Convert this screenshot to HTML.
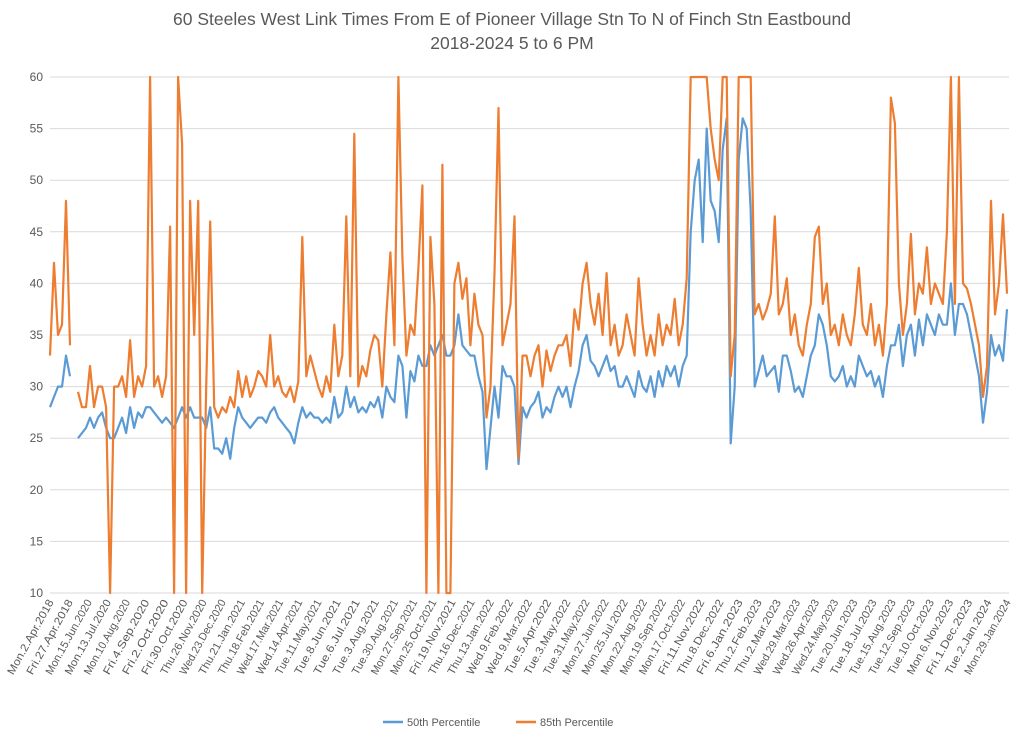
<!DOCTYPE html>
<html><head><meta charset="utf-8"><style>
html,body{margin:0;padding:0;background:#fff;}
svg{display:block;font-family:"Liberation Sans",Calibri,sans-serif;}
</style></head><body>
<svg id="chart" width="1024" height="743" viewBox="0 0 1024 743" xmlns="http://www.w3.org/2000/svg">
<text x="512" y="25" text-anchor="middle" font-size="17.5" fill="#595959">60 Steeles West Link Times From E of Pioneer Village Stn To N of Finch Stn Eastbound</text>
<text x="512" y="49" text-anchor="middle" font-size="17.5" fill="#595959">2018-2024 5 to 6 PM</text>
<g id="grid"></g>
<g id="yticks"></g>
<g id="xticks"></g>
<defs><clipPath id="pc"><rect x="48" y="75" width="962" height="520"/></clipPath></defs>
<g id="series" clip-path="url(#pc)"></g>
<g>
<line x1="383" y1="722" x2="403" y2="722" stroke="#5b9bd5" stroke-width="2.5"/>
<text x="407" y="726" font-size="11" fill="#595959">50th Percentile</text>
<line x1="516" y1="722" x2="536" y2="722" stroke="#ed7d31" stroke-width="2.5"/>
<text x="540" y="726" font-size="11" fill="#595959">85th Percentile</text>
</g>
</svg>
<script>
const yTicks=[10,15,20,25,30,35,40,45,50,55,60];
const xLabels=["Mon.2.Apr.2018","Fri.27.Apr.2018","Mon.15.Jun.2020","Mon.13.Jul.2020","Mon.10.Aug.2020","Fri.4.Sep.2020","Fri.2.Oct.2020","Fri.30.Oct.2020","Thu.26.Nov.2020","Wed.23.Dec.2020","Thu.21.Jan.2021","Thu.18.Feb.2021","Wed.17.Mar.2021","Wed.14.Apr.2021","Tue.11.May.2021","Tue.8.Jun.2021","Tue.6.Jul.2021","Tue.3.Aug.2021","Tue.30.Aug.2021","Mon.27.Sep.2021","Mon.25.Oct.2021","Fri.19.Nov.2021","Thu.16.Dec.2021","Thu.13.Jan.2022","Wed.9.Feb.2022","Wed.9.Mar.2022","Tue.5.Apr.2022","Tue.3.May.2022","Tue.31.May.2022","Mon.27.Jun.2022","Mon.25.Jul.2022","Mon.22.Aug.2022","Mon.19.Sep.2022","Mon.17.Oct.2022","Fri.11.Nov.2022","Thu.8.Dec.2022","Fri.6.Jan.2023","Thu.2.Feb.2023","Thu.2.Mar.2023","Wed.29.Mar.2023","Wed.26.Apr.2023","Wed.24.May.2023","Tue.20.Jun.2023","Tue.18.Jul.2023","Tue.15.Aug.2023","Tue.12.Sep.2023","Tue.10.Oct.2023","Mon.6.Nov.2023","Fri.1.Dec.2023","Tue.2.Jan.2024","Mon.29.Jan.2024"];
const p50=[28,29,30,30,33,31,null,25,25.5,26,
27,26,27,27.5,26,25,25,26,27,25.5,
28,26,27.5,27,28,28,27.5,27,26.5,27,
26.5,26,27,28,27,28,27,27,27,26,
28,24,24,23.5,25,23,26,28,27,26.5,
26,26.5,27,27,26.5,27.5,28,27,26.5,26,
25.5,24.5,26.5,28,27,27.5,27,27,26.5,27,
26.5,29,27,27.5,30,28,29,27.5,28,27.5,
28.5,28,29,27,30,29,28.5,33,32,27,
31.5,30.5,33,32,32,34,33,34,35,33,
33,34,37,34,33.5,33,33,31,29.5,22,
26,30,27,32,31,31,30,22.5,28,27,
28,28.5,29.5,27,28,27.5,29,30,29,30,
28,30,31.5,34,35,32.5,32,31,32,33,
31.5,32,30,30,31,30,29,31.5,30,29.5,
31,29,31.5,30,32,31,32,30,32,33,
45,50,52,44,55,48,47,44,53,56,
24.5,30,52,56,55,47,30,31.5,33,31,
31.5,32,29.5,33,33,31.5,29.5,30,29,31,
33,34,37,36,34,31,30.5,31,32,30,
31,30,33,32,31,31.5,30,31,29,32,
34,34,36,32,35,36,33,36.5,34,37,
36,35,37,36,36,40,35,38,38,37,
35,33,31,26.5,29.5,35,33,34,32.5,37.5];
const p85=[33,42,35,36,48,34,null,29.5,28,28,
32,28,30,30,28,10,30,30,31,29,
34.5,29,31,30,32,60,30,31,29,31,
45.5,10,60,53.5,10,48,35,48,10,30,
46,28,27,28,27.5,29,28,31.5,29,31,
29,30,31.5,31,30,35,30,31,29.5,29,
30,28.5,30.5,44.5,31,33,31.5,30,29,31,
29.5,36,31,33,46.5,31,54.5,30,32,31,
33.5,35,34.5,30,37,43,34,60,42.5,33,
36,35,41.5,49.5,10,44.5,38,10,51.5,10,
10,40,42,38.5,40.5,34,39,36,35,27,
30,41,57,34,36,38,46.5,23,33,33,
31,33,34,30,33.5,31.5,33,34,34,35,
32,37.5,35.5,40,42,38,36,39,35,41,
34,36,33,34,37,35,33,40.5,36,33,
35,33,37,34,36,35,38.5,34,36,40.5,
60,60,60,60,60,55,52,50,60,60,
31,35,60,60,60,60,37,38,36.5,37.5,
39,46.5,37,38,40.5,35,37,34,33,36,
38,44.5,45.5,38,40,35,36,34,37,35,
34,37,41.5,36,35,38,34,36,33,38,
58,55.5,40,35,38,44.8,37,40,39,43.5,
38,40,39,38,45,60,38,60,40,39.5,
38,36,34,29,32,48,37,40,46.7,39];
const NS="http://www.w3.org/2000/svg";
const X0=50,X1=1007,Y10=593,Y60=77;
function yScale(v){return Y10-(v-10)*(Y10-Y60)/50;}
function xScale(i,n){return X0+i*(X1-X0)/(n-1);}
const grid=document.getElementById('grid'),yt=document.getElementById('yticks'),xt=document.getElementById('xticks'),ser=document.getElementById('series');
yTicks.forEach(t=>{
  const l=document.createElementNS(NS,'line');
  
  
  l.setAttribute('x1',X0);l.setAttribute('x2',1009);l.setAttribute('y1',yScale(t));l.setAttribute('y2',yScale(t));
  l.setAttribute('stroke','#d9d9d9');l.setAttribute('stroke-width','1');
  grid.appendChild(l);
  const tx=document.createElementNS(NS,'text');
  
  
  tx.setAttribute('x',43);tx.setAttribute('y',yScale(t)+4);tx.setAttribute('text-anchor','end');
  tx.setAttribute('font-size','12');tx.setAttribute('fill','#595959');tx.textContent=t;
  yt.appendChild(tx);
});
xLabels.forEach((s,i)=>{
  const x=48+i*(1005-48)/(xLabels.length-1);
  const tx=document.createElementNS(NS,'text');
  
  
  tx.setAttribute('transform','translate('+(x+6)+',602) rotate(-61)');
  tx.setAttribute('text-anchor','end');tx.setAttribute('font-size','11');tx.setAttribute('fill','#595959');
  tx.setAttribute('textLength','84');tx.setAttribute('lengthAdjust','spacingAndGlyphs');
  tx.textContent=s;xt.appendChild(tx);
});
function drawSeries(arr,color,name){
  let d='',pen=false;
  arr.forEach((v,i)=>{
    if(v===null){pen=false;return;}
    d+=(pen?'L':'M')+xScale(i,arr.length).toFixed(1)+' '+yScale(v).toFixed(1);pen=true;
  });
  const p=document.createElementNS(NS,'path');
  
  
  p.setAttribute('d',d);p.setAttribute('fill','none');p.setAttribute('stroke',color);
  p.setAttribute('stroke-width','2.2');p.setAttribute('stroke-linejoin','round');
  ser.appendChild(p);
}
drawSeries(p50,'#5b9bd5','line-50th-percentile');
drawSeries(p85,'#ed7d31','line-85th-percentile');
</script>
</body></html>
